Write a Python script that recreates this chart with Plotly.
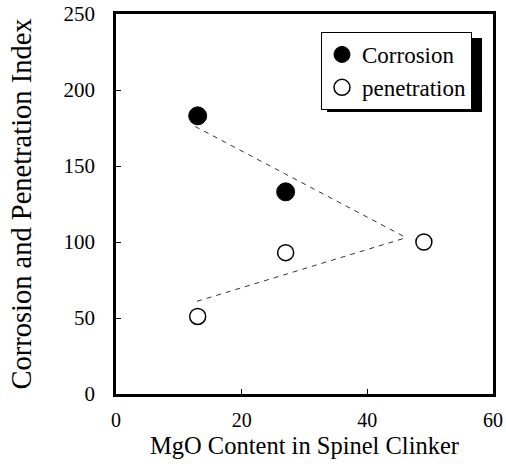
import plotly.graph_objects as go

mgo = [13, 27]
corrosion = [183, 133]
mgo_pen = [13, 27, 49]
penetration = [51, 93, 100]
trend_corr_x = [12.6, 46.3]
trend_corr_y = [176, 102.6]
trend_pen_x = [12.9, 46.0]
trend_pen_y = [61, 102.6]

font = "Liberation Serif"

# plot area in pixels (for the legend shadow)
L, R, T, B = 116, 493, 14, 394
W, H = 506, 464


def px(x):
    return (x - L) / (R - L)


def py(y):
    return (B - y) / (B - T)


fig = go.Figure()
fig.add_trace(go.Scatter(x=trend_corr_x, y=trend_corr_y, mode="lines",
                         line=dict(color="#333", width=1, dash="5px,5px"), showlegend=False))
fig.add_trace(go.Scatter(x=trend_pen_x, y=trend_pen_y, mode="lines",
                         line=dict(color="#333", width=1, dash="5px,5px"), showlegend=False))
fig.add_trace(go.Scatter(x=mgo, y=corrosion, mode="markers", name="Corrosion",
                         marker=dict(symbol="circle", size=18, color="black",
                                     line=dict(color="black", width=1))))
fig.add_trace(go.Scatter(x=mgo_pen, y=penetration, mode="markers", name="penetration",
                         marker=dict(symbol="circle", size=16, color="white",
                                     line=dict(color="black", width=1.5))))

# legend drop shadow
fig.add_shape(type="rect", xref="paper", yref="paper",
              x0=px(327), x1=px(482), y0=py(112), y1=py(38),
              fillcolor="black", line=dict(width=0), layer="above")

fig.update_layout(
    width=W, height=H,
    margin=dict(l=L, r=W - R, t=T, b=H - B),
    plot_bgcolor="white", paper_bgcolor="white",
    font=dict(family=font, color="black", size=21),
    legend=dict(x=px(321), y=py(32), xanchor="left", yanchor="top",
                bgcolor="white", bordercolor="black", borderwidth=1,
                font=dict(family=font, size=23), itemwidth=30,
                tracegroupgap=0),
    xaxis=dict(range=[0, 60], tickvals=[0, 20, 40, 60], ticks="inside", ticklen=5,
               tickcolor="black", showgrid=False, zeroline=False, showline=True,
               linecolor="black", linewidth=2.5, mirror=True, automargin=False,
               tickfont=dict(size=20, family=font), ticklabelstandoff=6,
               title=dict(text="MgO Content in Spinel Clinker",
                          font=dict(size=24.5, family=font), standoff=8)),
    yaxis=dict(range=[0, 250], tickvals=[0, 50, 100, 150, 200, 250], ticks="inside", ticklen=5,
               tickcolor="black", showgrid=False, zeroline=False, showline=True,
               linecolor="black", linewidth=2.5, mirror=True, automargin=False,
               tickfont=dict(size=21, family=font), ticklabelstandoff=14,
               title=dict(text="Corrosion and Penetration Index",
                          font=dict(size=28.5, family=font), standoff=24)),
)

fig.write_html("out.html")
